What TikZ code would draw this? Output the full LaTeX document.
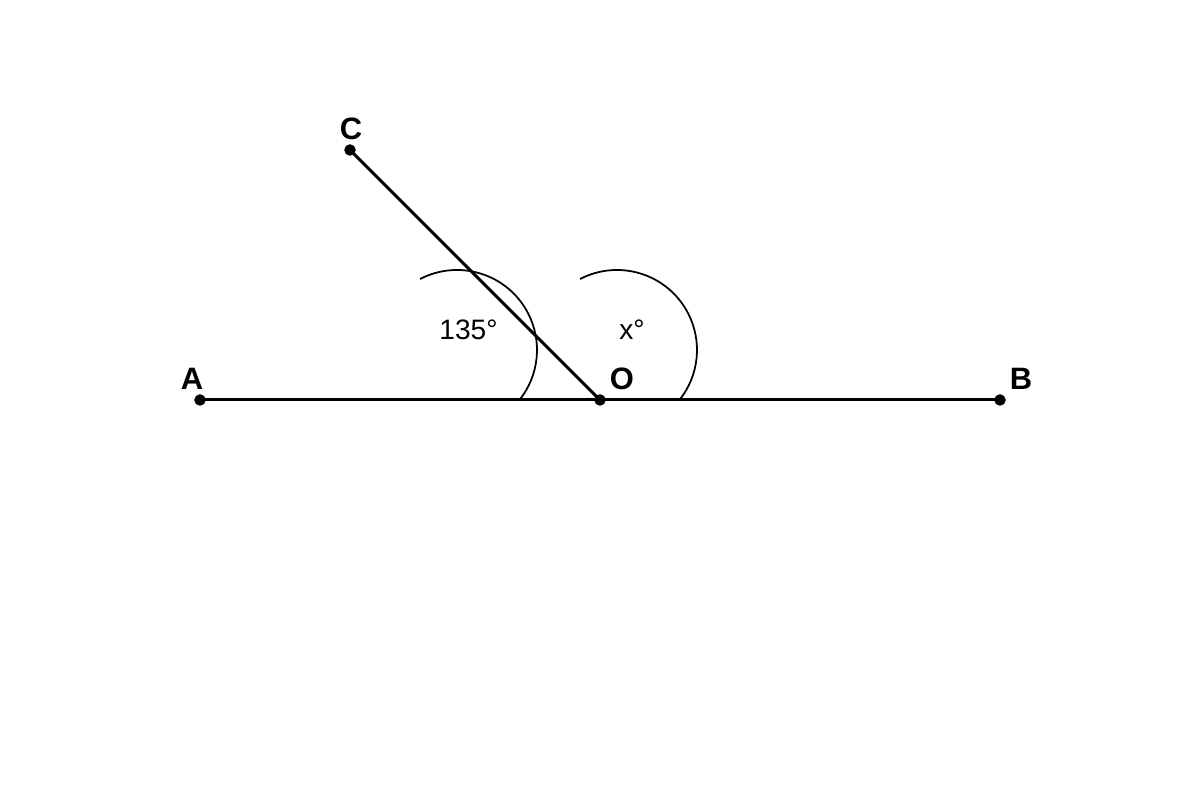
\documentclass[tikz,border=0pt]{standalone}
\usepackage{fontspec}
\setmainfont{Liberation Sans}

\def \pointSize {0.05}
\def \arcRadius {0.8}

\tikzset{
   segment/.style={line width=0.85pt, line cap=round},
   anglearc/.style={line width=0.5pt},
   pointlabel/.style={font=\fontsize{8.8}{10}\selectfont\bfseries, inner sep=0pt},
   anglelabel/.style={font=\fontsize{8}{10}\selectfont, inner sep=0pt}
}

\begin{document}
\begin{tikzpicture}[scale=1]

      \useasboundingbox (0,0) rectangle (12,8);

      \coordinate (A) at (2, 4);
      \coordinate (O) at (6, 4);
      \coordinate (B) at (10, 4);
      \coordinate (C) at (3.5, 6.5);

      \draw[segment] (A) -- (B);
      \draw[segment] (O) -- (C);

      \draw[anglearc] ([shift={(-1.43,0.5)}]O) ++(117.5:\arcRadius) arc (117.5:-38.7:\arcRadius);
      \draw[anglearc] ([shift={(0.17,0.5)}]O) ++(117.5:\arcRadius) arc (117.5:-38.7:\arcRadius);

      \filldraw (A) circle (\pointSize);
      \filldraw (O) circle (\pointSize);
      \filldraw (B) circle (\pointSize);
      \filldraw (C) circle (\pointSize);

      \node[pointlabel] (labelA) at (1.92, 4.21) {A};
      \node[pointlabel] (labelO) at (6.22, 4.21) {O};
      \node[pointlabel] (labelB) at (10.21, 4.21) {B};
      \node[pointlabel] (labelC) at (3.51, 6.71) {C};

      \node[anglelabel] (angleAOC) at (4.685, 4.70) {135°};
      \node[anglelabel] (angleCOB) at (6.32, 4.70) {x°};

   \end{tikzpicture}
\end{document}
